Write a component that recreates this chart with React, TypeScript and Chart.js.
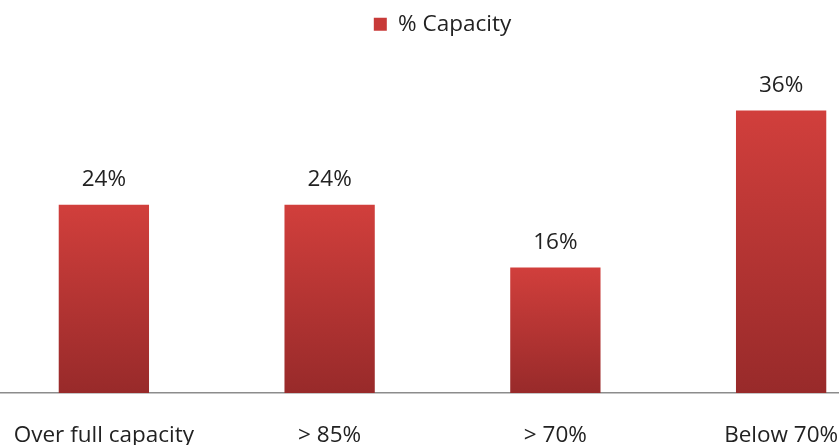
import React, { useEffect, useRef } from "react";
import { Chart, registerables } from "chart.js";

Chart.register(...registerables);

const categories = ["Over full capacity", "> 85%", "> 70%", "Below 70%"];
const capacityValues = [24, 24, 16, 36];
const seriesLabel = "% Capacity";

const FONT = "'Open Sans', Lato, sans-serif";
const FSIZE = 22.5;

const labelPlugin = {
  id: "valueLabels",
  afterDatasetsDraw(chart: any) {
    const { ctx } = chart;
    const meta = chart.getDatasetMeta(0);
    ctx.save();
    ctx.font = `${FSIZE}px ${FONT}`;
    ctx.fillStyle = "#222";
    ctx.textAlign = "center";
    ctx.textBaseline = "bottom";
    meta.data.forEach((el: any, i: number) => {
      ctx.fillText(capacityValues[i] + "%", el.x, el.y - 14);
    });
    ctx.restore();
  },
};

export default function App() {
  const ref = useRef<HTMLCanvasElement | null>(null);
  useEffect(() => {
    const canvas = ref.current!;
    const chart = new Chart(canvas, {
      type: "bar",
      data: {
        labels: categories,
        datasets: [
          {
            label: seriesLabel,
            data: capacityValues,
            backgroundColor: (c: any) => {
              const ch = c.chart;
              const area = ch.chartArea;
              if (!area || c.type !== "data") return "#c83a38";
              const yScale = ch.scales.y;
              const top = yScale.getPixelForValue(c.raw);
              const bottom = yScale.getPixelForValue(0);
              const g = ch.ctx.createLinearGradient(0, top, 0, bottom);
              g.addColorStop(0, "#d13f3c");
              g.addColorStop(1, "#982a2a");
              return g;
            },
            borderWidth: 0,
            categoryPercentage: 0.8,
            barPercentage: 0.5,
          },
        ],
      },
      options: {
        responsive: false,
        animation: false,
        layout: { padding: { top: 3, left: 0, right: 0, bottom: 0 } },
        plugins: {
          legend: {
            display: true,
            position: "top",
            labels: {
              boxWidth: 13,
              boxHeight: 13,
              color: "#222",
              font: { size: FSIZE, family: FONT },
              generateLabels: () => [
                {
                  text: seriesLabel,
                  fillStyle: "#c83a38",
                  strokeStyle: "#c83a38",
                  lineWidth: 0,
                  fontColor: "#222",
                  datasetIndex: 0,
                } as any,
              ],
            },
          },
          tooltip: { enabled: false },
        },
        scales: {
          x: {
            grid: { display: false },
            border: { display: true, color: "#8c8c8c", width: 1.5 },
            ticks: {
              color: "#222",
              font: { size: FSIZE, family: FONT },
              padding: 21,
              maxRotation: 0,
              autoSkip: false,
            },
          },
          y: {
            display: false,
            min: 0,
            max: 44.3,
          },
        },
      },
      plugins: [labelPlugin],
    });
    return () => chart.destroy();
  }, []);
  return (
    <div
      style={{
        position: "fixed",
        left: 0,
        top: 0,
        width: 839,
        height: 445,
        overflow: "hidden",
        background: "#fff",
      }}
    >
      <canvas
        ref={ref}
        width={903}
        height={470}
        style={{ position: "absolute", left: -9, top: 0, width: 903, height: 470 }}
      />
    </div>
  );
}
